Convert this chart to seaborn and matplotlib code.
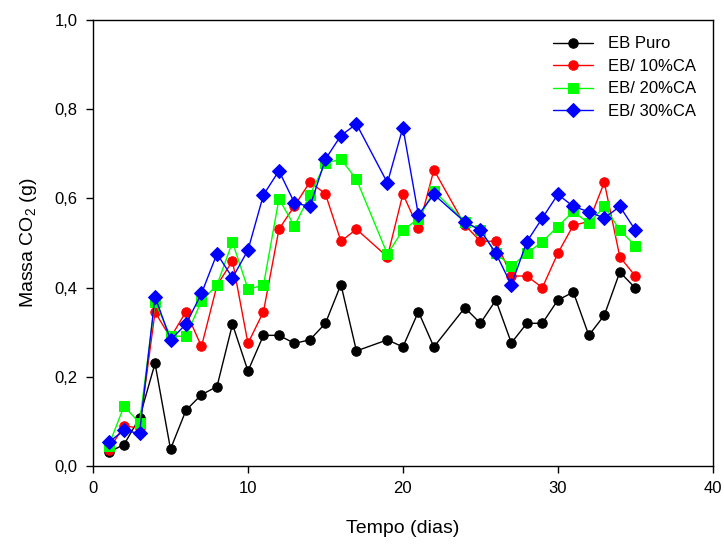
import numpy as np
import pandas as pd
import matplotlib
matplotlib.use('Agg')
import matplotlib.pyplot as plt
from matplotlib.ticker import FuncFormatter
import seaborn as sns

dias = [1, 2, 3, 4, 5, 6, 7, 8, 9, 10, 11, 12, 13, 14, 15, 16, 17,
        19, 20, 21, 22, 24, 25, 26, 27, 28, 29, 30, 31, 32, 33, 34, 35]

eb_puro = [0.031, 0.048, 0.108, 0.230, 0.038, 0.125, 0.160, 0.178, 0.318, 0.213,
           0.293, 0.293, 0.275, 0.283, 0.320, 0.407, 0.258,
           0.283, 0.267, 0.346, 0.267, 0.355, 0.320, 0.372, 0.276, 0.320,
           0.320, 0.372, 0.390, 0.293, 0.338, 0.435, 0.399]

eb_10 = [0.035, 0.090, 0.085, 0.345, 0.288, 0.346, 0.268, 0.405, 0.460, 0.275,
         0.346, 0.531, 0.583, 0.637, 0.610, 0.504, 0.531,
         0.469, 0.610, 0.533, 0.664, 0.540, 0.504, 0.504, 0.426, 0.426,
         0.400, 0.477, 0.540, 0.548, 0.636, 0.469, 0.426]

eb_20 = [0.045, 0.134, 0.097, 0.368, 0.291, 0.291, 0.370, 0.406, 0.502, 0.397,
         0.405, 0.599, 0.538, 0.608, 0.679, 0.688, 0.643,
         0.475, 0.529, 0.554, 0.617, 0.548, 0.529, 0.477, 0.448, 0.477,
         0.503, 0.537, 0.571, 0.544, 0.582, 0.529, 0.494]

eb_30 = [0.053, 0.080, 0.073, 0.380, 0.283, 0.318, 0.387, 0.476, 0.422, 0.484,
         0.608, 0.662, 0.590, 0.582, 0.688, 0.741, 0.767,
         0.635, 0.759, 0.563, 0.609, 0.547, 0.529, 0.477, 0.406, 0.503,
         0.556, 0.609, 0.582, 0.570, 0.556, 0.582, 0.529]

series_names = ['EB Puro', 'EB/ 10%CA', 'EB/ 20%CA', 'EB/ 30%CA']
series_values = [eb_puro, eb_10, eb_20, eb_30]
colors = ['#000000', '#ff0000', '#00ff00', '#0000ff']
markers = ['o', 'o', 's', 'D']
marker_sizes = [6.8, 6.8, 6.5, 6.8]

x_ticks = [0, 10, 20, 30, 40]
y_ticks = [0.0, 0.2, 0.4, 0.6, 0.8, 1.0]

df = pd.DataFrame({
    'dias': dias * len(series_names),
    'massa': np.concatenate(series_values),
    'serie': np.repeat(series_names, len(dias)),
})

sns.set_style('ticks')
plt.rcParams['font.family'] = ['Liberation Sans', 'DejaVu Sans']
plt.rcParams['mathtext.default'] = 'regular'
plt.rcParams['text.color'] = 'black'
plt.rcParams['axes.labelcolor'] = 'black'

fig = plt.figure(figsize=(7.24, 5.46), dpi=100)
ax = fig.add_axes([0.1285, 0.1465, 0.856, 0.8168])

for name, color, marker, ms in zip(series_names, colors, markers, marker_sizes):
    sub = df[df['serie'] == name]
    sns.lineplot(data=sub, x='dias', y='massa', ax=ax, color=color,
                 marker=marker, markersize=ms, markeredgecolor=color,
                 linewidth=1.0, label=name, estimator=None, sort=False)

ax.set_xlim(0, 40)
ax.set_ylim(0, 1.0)
ax.set_xticks(x_ticks)
ax.set_yticks(y_ticks)
ax.yaxis.set_major_formatter(FuncFormatter(lambda v, p: f'{v:.1f}'.replace('.', ',')))
ax.tick_params(axis='both', direction='out', length=5, width=1, labelsize=12,
               colors='black', pad=6, top=False, right=False)

for side in ['top', 'right', 'bottom', 'left']:
    ax.spines[side].set_visible(True)
    ax.spines[side].set_color('black')
    ax.spines[side].set_linewidth(1.0)

ax.set_xlabel('Tempo (dias)', fontsize=14, labelpad=17, color='black')
ax.set_ylabel('Massa CO$_2$ (g)', fontsize=14, labelpad=11, color='black')

ax.legend(loc='upper right', bbox_to_anchor=(0.998, 0.997), frameon=False,
          fontsize=12, handlelength=2.4, handletextpad=0.9, labelspacing=0.45)

fig.savefig('out.png', dpi=100)
